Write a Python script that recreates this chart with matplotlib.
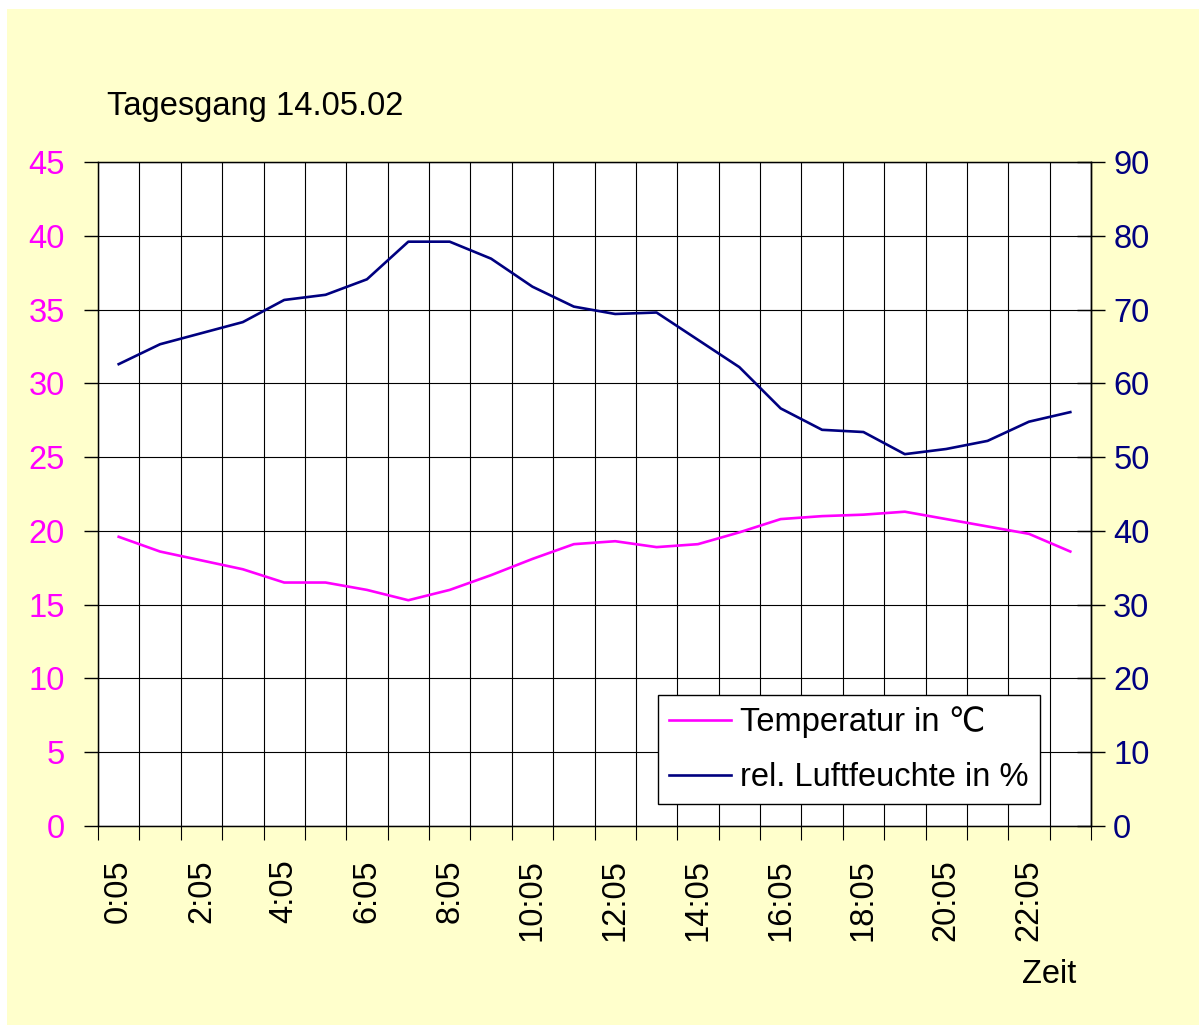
import matplotlib.pyplot as plt
from matplotlib.patches import Rectangle

plt.rcParams['font.family'] = ['Liberation Sans', 'DejaVu Sans']

zeiten = [f'{h}:05' for h in range(24)]
temperatur = [19.6, 18.6, 18.0, 17.4, 16.5, 16.5, 16.0, 15.3, 16.0, 17.0, 18.1, 19.1,
              19.3, 18.9, 19.1, 19.9, 20.8, 21.0, 21.1, 21.3, 20.8, 20.3, 19.8, 18.6]
feuchte = [62.6, 65.3, 66.8, 68.3, 71.3, 72.0, 74.1, 79.2, 79.2, 76.9, 73.1, 70.4,
           69.4, 69.6, 65.9, 62.2, 56.6, 53.7, 53.4, 50.4, 51.1, 52.2, 54.8, 56.1]

FS = 23.5
MAGENTA = '#FF00FF'
NAVY = '#000080'

fig = plt.figure(figsize=(11.99, 10.25), dpi=100)
fig.patches.append(Rectangle((7 / 1199, 0), 1, 1 - 9 / 1025, transform=fig.transFigure,
                             facecolor='#FFFFCC', edgecolor='none', zorder=-10))

ax = fig.add_axes([98 / 1199, 1 - 826 / 1025, 993 / 1199, 664 / 1025])
ax.set_facecolor('white')
x = list(range(len(zeiten)))

ax.plot(x, temperatur, color=MAGENTA, lw=1.9, label='Temperatur in \u2103', zorder=3)
ax.set_xlim(-0.5, len(zeiten) - 0.5)
ax.set_ylim(0, 45)
ax.set_yticks(range(0, 46, 5))
ax.tick_params(axis='y', colors='black', labelcolor=MAGENTA, labelsize=FS,
               direction='out', length=10, width=1, pad=14)
ax.grid(axis='y', color='black', lw=0.8, zorder=1)

# category boundaries -> vertical grid + ticks, labels every 2nd hour
ax.set_xticks([i - 0.5 for i in range(len(zeiten) + 1)], minor=True)
ax.set_xticks(x[::2])
ax.set_xticklabels(zeiten[::2], rotation=90)
ax.tick_params(axis='x', which='major', length=0, labelsize=FS, pad=24)
ax.tick_params(axis='x', which='minor', direction='out', length=10, width=0.8)
ax.grid(axis='x', which='minor', color='black', lw=0.8, zorder=1)
for s in ax.spines.values():
    s.set_linewidth(1)
    s.set_color('black')

ax2 = ax.twinx()
ax2.plot(x, feuchte, color=NAVY, lw=1.9, label='rel. Luftfeuchte in %', zorder=3)
ax2.set_ylim(0, 90)
ax2.set_yticks(range(0, 91, 10))
ax2.tick_params(axis='y', colors='black', labelcolor=NAVY, labelsize=FS,
                direction='inout', length=20, width=1, pad=6)
ax2.spines['right'].set_linewidth(1)

h1, l1 = ax.get_legend_handles_labels()
h2, l2 = ax2.get_legend_handles_labels()
leg = ax2.legend(h1 + h2, l1 + l2, loc='upper left', bbox_to_anchor=(0.564, 0.197),
                 borderaxespad=0, fontsize=FS, frameon=True, fancybox=False,
                 framealpha=1, edgecolor='black', handlelength=1.9,
                 handletextpad=0.25, labelspacing=0.72, borderpad=0.35)
leg.get_frame().set_linewidth(1)

fig.text(107 / 1199, 1 - 115 / 1025, 'Tagesgang 14.05.02', fontsize=FS, va='baseline')
fig.text(1022 / 1199, 1 - 983 / 1025, 'Zeit', fontsize=FS, va='baseline')

fig.savefig('out.png', dpi=100)
